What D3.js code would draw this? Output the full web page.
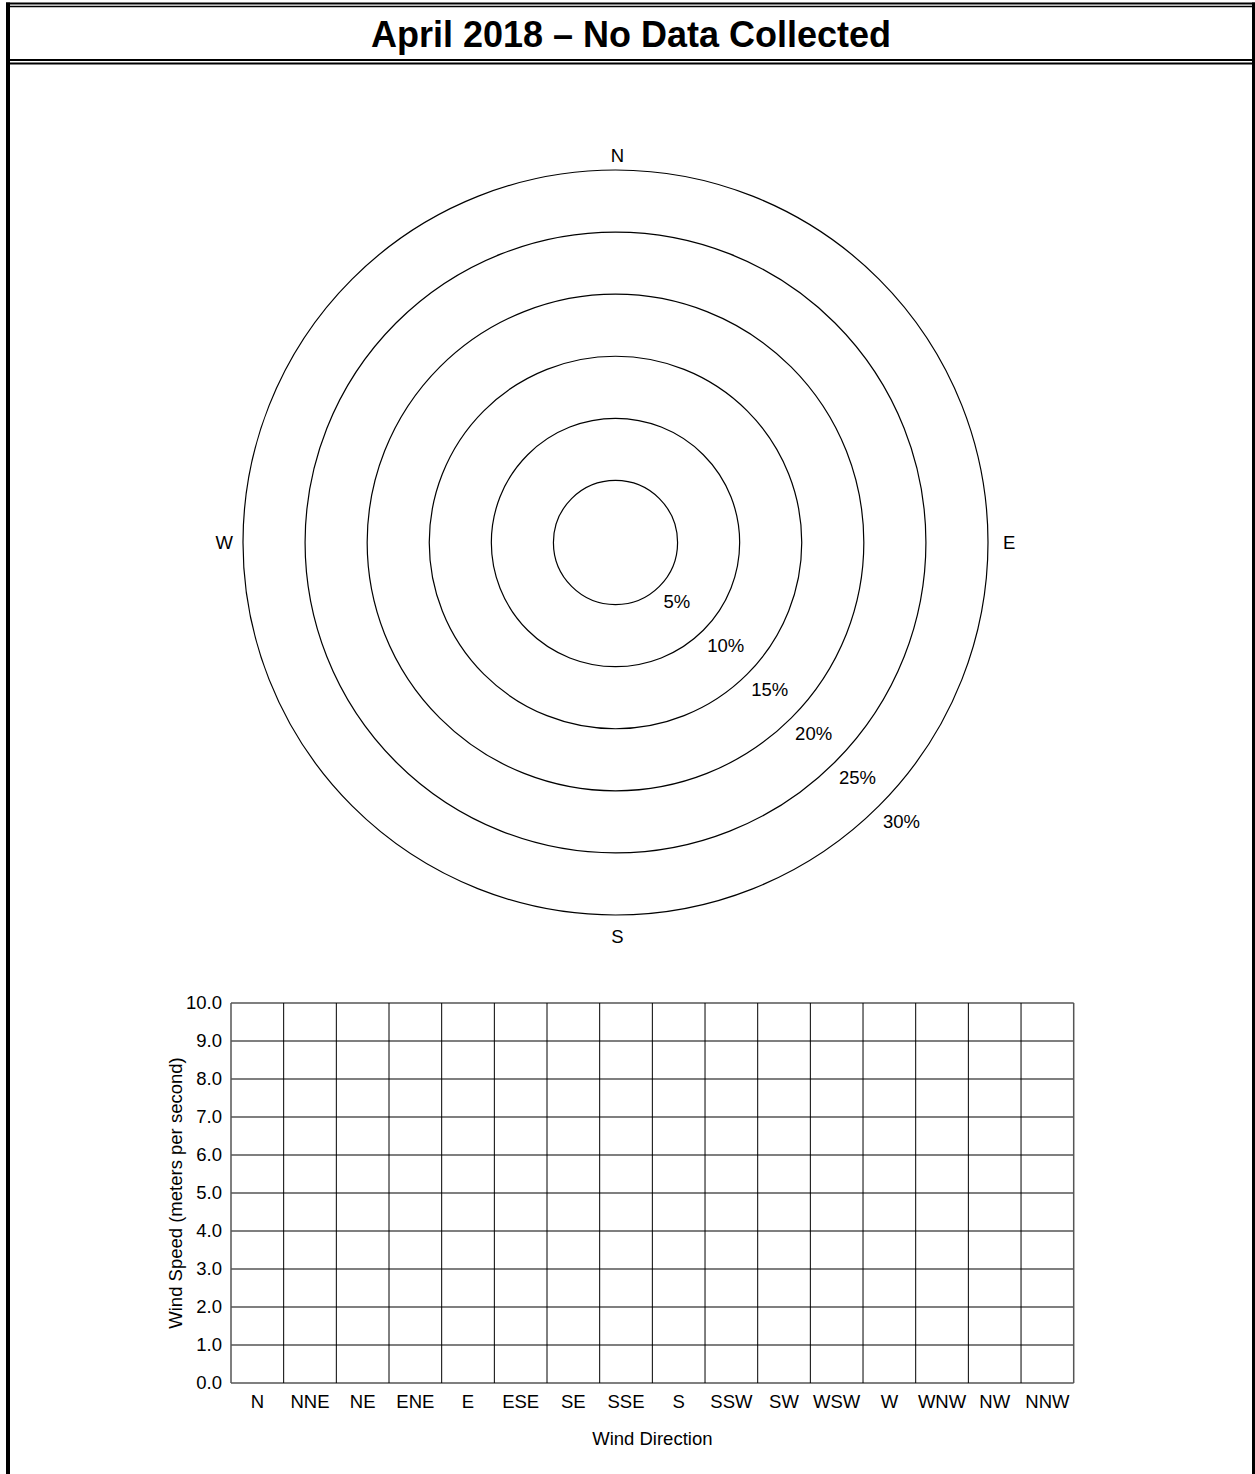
<!DOCTYPE html>
<html><head><meta charset="utf-8">
<script src="https://cdn.jsdelivr.net/npm/d3@7"></script>
<style>
html,body{margin:0;padding:0;background:#fff;}
svg text{font-family:"Liberation Sans",Arial,sans-serif;fill:#000;}
</style></head>
<body>
<svg id="chart" width="1255" height="1474"></svg>
<script>
// ---- data ----
const title = "April 2018 \u2013 No Data Collected";
const directions = ["N","NNE","NE","ENE","E","ESE","SE","SSE","S","SSW","SW","WSW","W","WNW","NW","NNW"];
// No data collected for this month
const directionFrequency = [null,null,null,null,null,null,null,null,null,null,null,null,null,null,null,null];
const meanWindSpeed = [null,null,null,null,null,null,null,null,null,null,null,null,null,null,null,null];
const ringPercents = [5,10,15,20,25,30];
const compassLabels = ["N","E","S","W"];
const speedTicks = [0,1,2,3,4,5,6,7,8,9,10];
const xAxisTitle = "Wind Direction";
const yAxisTitle = "Wind Speed (meters per second)";

const svg = d3.select("#chart");
const W = 1255, H = 1474;

// ---- frame ----
const frame = svg.append("g").attr("fill","none").attr("stroke","#000");
[[3.5,2],[6.5,1.5],[60,2],[63.5,2]].forEach(([y,w]) =>
  frame.append("line").attr("x1",6).attr("x2",1255).attr("y1",y).attr("y2",y).attr("stroke-width",w));
frame.append("line").attr("x1",8).attr("x2",8).attr("y1",2.5).attr("y2",H).attr("stroke-width",4);
frame.append("line").attr("x1",1253.5).attr("x2",1253.5).attr("y1",2.5).attr("y2",H).attr("stroke-width",3);

svg.append("text").attr("x",631).attr("y",47).attr("text-anchor","middle")
  .attr("font-size",36).attr("font-weight","bold").text(title);

// ---- wind rose ----
const cx = 615.5, cy = 542.5;
const r = d3.scaleLinear().domain([0,30]).range([0,372.5]);
const rose = svg.append("g");
rose.selectAll("circle.ring").data(ringPercents).join("circle")
  .attr("class","ring").attr("cx",cx).attr("cy",cy).attr("r",d=>r(d))
  .attr("fill","none").attr("stroke","#000").attr("stroke-width",1.2);
// wedges (none: no data)
const angle = d3.scaleBand().domain(directions).range([-Math.PI/16, 2*Math.PI - Math.PI/16]);
rose.selectAll("path.wedge").data(directions.map((d,i)=>({d,v:directionFrequency[i]})).filter(o=>o.v!=null))
  .join("path").attr("class","wedge").attr("transform",`translate(${cx},${cy})`)
  .attr("d",o=>d3.arc()({innerRadius:0,outerRadius:r(o.v),startAngle:angle(o.d),endAngle:angle(o.d)+angle.bandwidth()}))
  .attr("fill","#888");

const a45 = Math.SQRT1_2;
rose.selectAll("text.pct").data(ringPercents).join("text")
  .attr("class","pct").attr("font-size",18.5)
  .attr("x",d=>cx + r(d)*a45 + 4).attr("y",d=>cy + r(d)*a45 + 22)
  .text(d=>d+"%");

const R = r(30);
const compassPos = {
  N:{x:cx+2, y:cy-R-8, a:"middle"},
  S:{x:cx+2, y:cy+R+28, a:"middle"},
  W:{x:cx-R-10, y:cy+6, a:"end"},
  E:{x:cx+R+15, y:cy+6, a:"start"}
};
rose.selectAll("text.compass").data(compassLabels).join("text")
  .attr("class","compass").attr("font-size",18.5)
  .attr("x",d=>compassPos[d].x).attr("y",d=>compassPos[d].y)
  .attr("text-anchor",d=>compassPos[d].a).text(d=>d);

// ---- bar chart ----
const x = d3.scaleBand().domain(directions).range([231,1073.7]).padding(0);
const y = d3.scaleLinear().domain([0,10]).range([1383,1003]);
const bc = svg.append("g");

// horizontal gridlines
bc.append("g").selectAll("line").data(speedTicks).join("line")
  .attr("x1",x.range()[0]).attr("x2",x.range()[1])
  .attr("y1",d=>y(d)).attr("y2",d=>y(d))
  .attr("stroke","#555").attr("stroke-width",1.5);
// vertical gridlines at band boundaries
const bounds = directions.map(d=>x(d)).concat([x.range()[1]]);
bc.append("g").selectAll("line").data(bounds).join("line")
  .attr("x1",d=>d).attr("x2",d=>d).attr("y1",y(10)).attr("y2",y(0))
  .attr("stroke",(d,i)=> (i===0||i===bounds.length-1) ? "#555" : "#000")
  .attr("stroke-width",(d,i)=> (i===0||i===bounds.length-1) ? 1.5 : 1);

// bars (none: no data)
bc.selectAll("rect.bar").data(directions.map((d,i)=>({d,v:meanWindSpeed[i]})).filter(o=>o.v!=null))
  .join("rect").attr("class","bar")
  .attr("x",o=>x(o.d)).attr("width",x.bandwidth())
  .attr("y",o=>y(o.v)).attr("height",o=>y(0)-y(o.v)).attr("fill","#888");

// y tick labels
const yAxis = d3.axisLeft(y).tickValues(speedTicks).tickFormat(d3.format(".1f")).tickSize(0).tickPadding(9);
const yg = bc.append("g").attr("transform",`translate(${x.range()[0]},0)`).call(yAxis);
yg.select(".domain").remove();
yg.selectAll("text").attr("font-size",18.5).attr("font-family",null).attr("fill","#000");

// x tick labels
const xAxis = d3.axisBottom(x).tickSize(0).tickPadding(12);
const xg = bc.append("g").attr("transform",`translate(0,${y(0)})`).call(xAxis);
xg.select(".domain").remove();
xg.selectAll("text").attr("font-size",18.5).attr("font-family",null).attr("fill","#000");

bc.append("text").attr("x",(x.range()[0]+x.range()[1])/2).attr("y",1445)
  .attr("text-anchor","middle").attr("font-size",18.5).text(xAxisTitle);
bc.append("text").attr("transform",`translate(182,${(y(0)+y(10))/2}) rotate(-90)`)
  .attr("text-anchor","middle").attr("font-size",18.5).text(yAxisTitle);
</script>
</body></html>
